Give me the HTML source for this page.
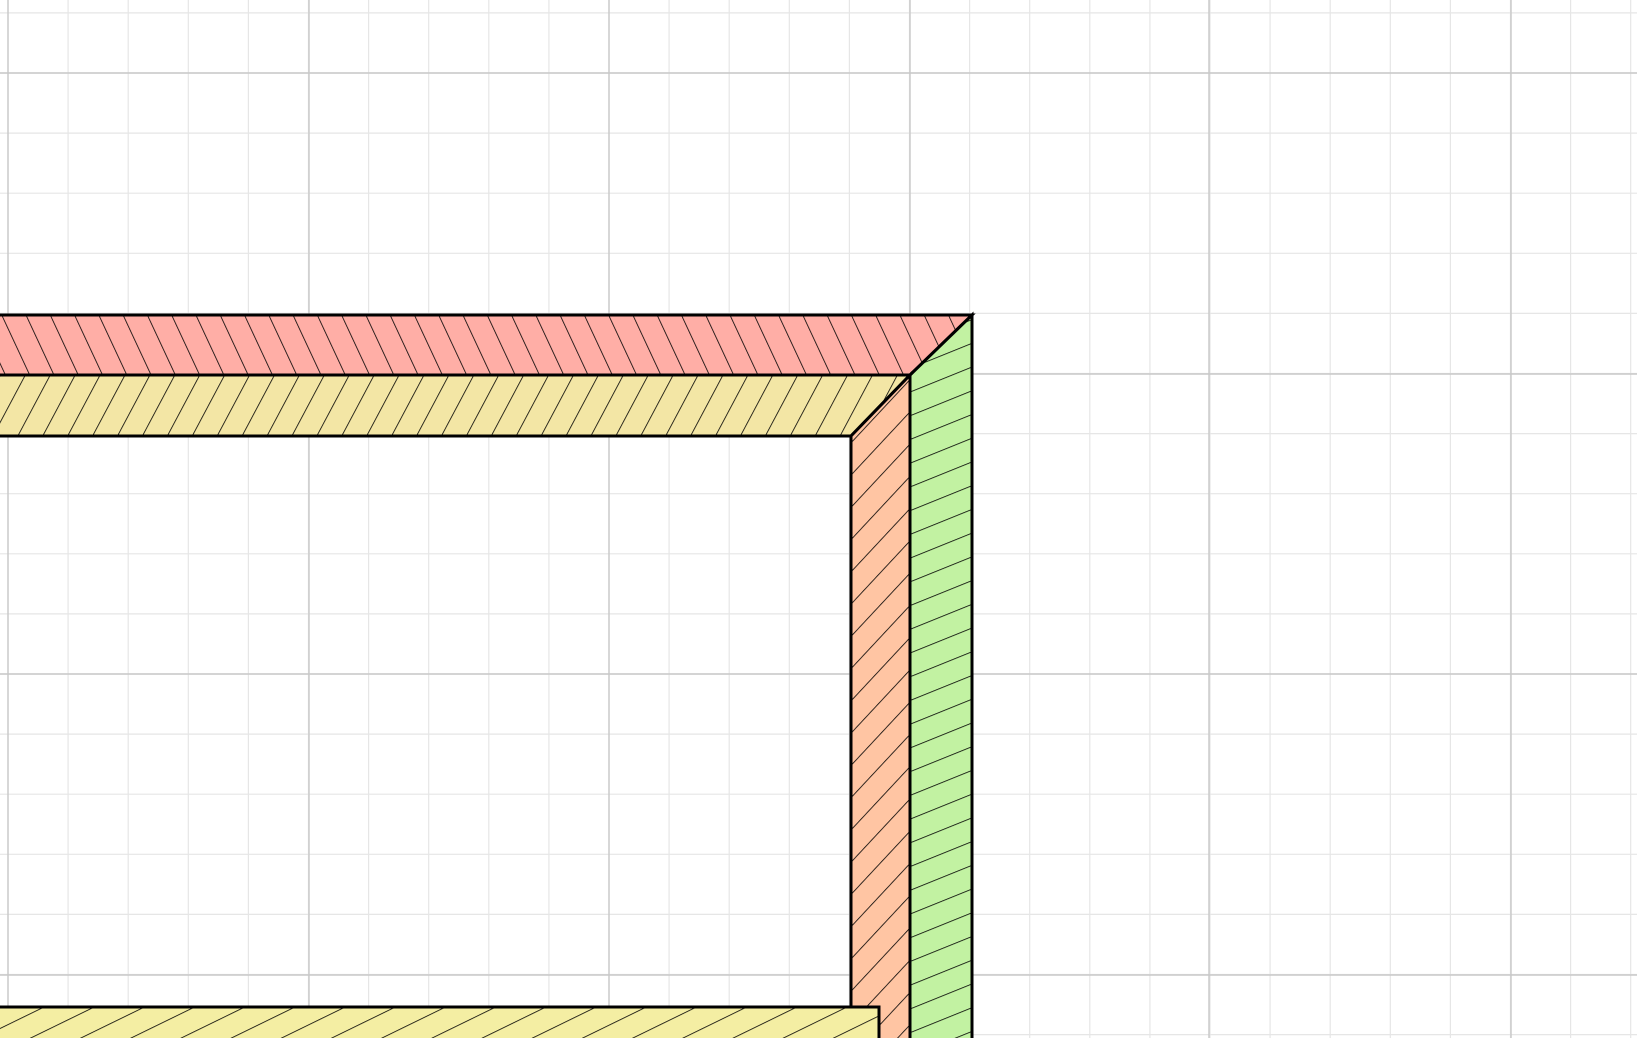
<!DOCTYPE html>
<html><head><meta charset="utf-8"><style>html,body{margin:0;padding:0;background:#fff}svg{display:block}</style></head>
<body>
<svg id="chart" width="1637" height="1038" viewBox="0 0 1637 1038" xmlns="http://www.w3.org/2000/svg">
<defs>
<pattern id="hRed" width="22" height="22" patternUnits="userSpaceOnUse" patternTransform="rotate(-25)"><rect width="22" height="22" fill="#ffaea6"/><line x1="0" y1="0" x2="0" y2="22" stroke="#000" stroke-width="1.6"/></pattern>
<pattern id="hYel" width="22" height="22" patternUnits="userSpaceOnUse" patternTransform="rotate(28)"><rect width="22" height="22" fill="#f3e6a5"/><line x1="0" y1="0" x2="0" y2="22" stroke="#000" stroke-width="1.6"/></pattern>
<pattern id="hPeach" width="22" height="22" patternUnits="userSpaceOnUse" patternTransform="rotate(43)"><rect width="22" height="22" fill="#ffc5a3"/><line x1="0" y1="0" x2="0" y2="22" stroke="#000" stroke-width="1.6"/></pattern>
<pattern id="hGreen" width="22" height="22" patternUnits="userSpaceOnUse" patternTransform="rotate(68)"><rect width="22" height="22" fill="#c2f2a2"/><line x1="0" y1="0" x2="0" y2="22" stroke="#000" stroke-width="1.6"/></pattern>
<pattern id="hYel2" width="22" height="22" patternUnits="userSpaceOnUse" patternTransform="rotate(64)"><rect width="22" height="22" fill="#f4eea3"/><line x1="0" y1="0" x2="0" y2="22" stroke="#000" stroke-width="1.6"/></pattern>
</defs>
<g id="grid"></g>
<g id="shapes"></g>
</svg>
<script>
const xMajor = [8, 309, 609, 910, 1209, 1511];
const yMajor = [73, 374, 674, 975];
const minorStep = 60.1;
const bands = [
  {name:'top-red-band', fill:'url(#hRed)', pts:[[-10,315],[972,315],[910,375],[-10,375]]},
  {name:'right-green-band', fill:'url(#hGreen)', pts:[[972,315],[972,1045],[910,1045],[910,375]]},
  {name:'top-yellow-band', fill:'url(#hYel)', pts:[[-10,375],[910,375],[851,436],[-10,436]]},
  {name:'right-peach-band', fill:'url(#hPeach)', pts:[[910,375],[910,1045],[851,1045],[851,436]]},
  {name:'bottom-yellow-band', fill:'url(#hYel2)', pts:[[-10,1007],[879,1007],[879,1045],[-10,1045]]}
];
const NS='http://www.w3.org/2000/svg';
const grid=document.getElementById('grid');
function ln(x1,y1,x2,y2,c,w,name){
  const l=document.createElementNS(NS,'line');
  l.setAttribute('x1',x1);l.setAttribute('y1',y1);l.setAttribute('x2',x2);l.setAttribute('y2',y2);
  l.setAttribute('stroke',c);l.setAttribute('stroke-width',w);
  
  
  grid.appendChild(l);
}
for(let x=xMajor[0]-minorStep*5; x<1640; x+=minorStep){ln(x,0,x,1038,'#e6e6e6',1.2,'minor-gridline-x');}
for(let y=yMajor[0]-minorStep*5; y<1040; y+=minorStep){ln(0,y,1637,y,'#e6e6e6',1.2,'minor-gridline-y');}
xMajor.forEach(x=>ln(x,0,x,1038,'#c8c8c8',1.4,'major-gridline-x'));
yMajor.forEach(y=>ln(0,y,1637,y,'#c8c8c8',1.4,'major-gridline-y'));
const sh=document.getElementById('shapes');
bands.forEach(b=>{
  const p=document.createElementNS(NS,'polygon');
  p.setAttribute('points',b.pts.map(q=>q.join(',')).join(' '));
  p.setAttribute('fill',b.fill);p.setAttribute('stroke','#000');p.setAttribute('stroke-width','3');
  p.setAttribute('stroke-linejoin','miter');
  
  
  sh.appendChild(p);
});
</script>
</body></html>
